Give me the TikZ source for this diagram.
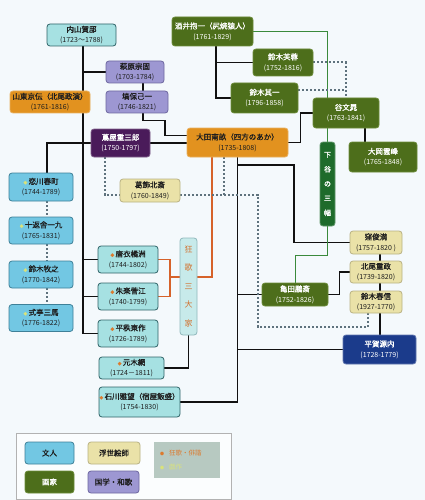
\documentclass[tikz,border=0pt]{standalone}
\usepackage{fontspec}
\setmainfont{Noto Sans CJK JP}[AutoFakeBold=1.3]
\pgfdeclarelayer{bg}
\pgfdeclarelayer{lines}
\pgfsetlayers{bg,lines,main}
\definecolor{cBg}{HTML}{F4F9FC}
\definecolor{cBun}{HTML}{72C7E3}
\definecolor{cBunD}{HTML}{3E8098}
\definecolor{cBunL}{HTML}{A6E1E2}
\definecolor{cBunLD}{HTML}{2F6468}
\definecolor{cUki}{HTML}{EAE2A8}
\definecolor{cUkiD}{HTML}{B9B283}
\definecolor{cGaka}{HTML}{4D6E1B}
\definecolor{cGakaD}{HTML}{6C8C3A}
\definecolor{cKoku}{HTML}{9D97D2}
\definecolor{cKokuD}{HTML}{6D67A0}
\definecolor{cOra}{HTML}{E2921F}
\definecolor{cOraD}{HTML}{E8B060}
\definecolor{cTsu}{HTML}{4A1B5A}
\definecolor{cHira}{HTML}{1B3B8B}
\definecolor{cShi}{HTML}{1E6B2B}
\definecolor{cK3}{HTML}{C7EAEA}
\definecolor{cK3D}{HTML}{8FB8BC}
\definecolor{cK3T}{HTML}{D2702C}
\definecolor{cLegG}{HTML}{B7C9C1}
\definecolor{cLine}{HTML}{111111}
\definecolor{cGreenL}{HTML}{3A8A3C}
\definecolor{cOraL}{HTML}{D6622A}
\definecolor{cDot}{HTML}{5E727D}
\definecolor{cMkO}{HTML}{DC7A2E}
\definecolor{cMkY}{HTML}{D9E27A}
\definecolor{cTxt}{HTML}{1E1E1E}
\newcommand\fn{\fontsize{7.5}{10.5}\selectfont\bfseries}
\newcommand\fd{\fontsize{7}{10.5}\selectfont\mdseries}
\newcommand\mko{{\color{cMkO}\fontsize{4}{4}\selectfont ●}\,}
\newcommand\mky{{\color{cMkY}\fontsize{4}{4}\selectfont ●}\,}
\tikzset{
  box/.style={rounded corners=3pt, line width=0.8pt, inner sep=0pt, align=center, font=\fn, text=cTxt},
  bun/.style={box, fill=cBun, draw=cBunD},
  bunl/.style={box, fill=cBunL, draw=cBunLD},
  uki/.style={box, fill=cUki, draw=cUkiD},
  gaka/.style={box, fill=cGaka, draw=cGakaD, text=white},
  koku/.style={box, fill=cKoku, draw=cKokuD},
  ora/.style={box, fill=cOra, draw=cOraD},
  tsu/.style={box, fill=cTsu, draw=cTsu!70!white, text=white},
  hira/.style={box, fill=cHira, draw=cHira!70!white, text=white},
  shi/.style={box, fill=cShi, draw=cShi!70!white, text=white, font=\fontsize{7}{14.5}\selectfont\bfseries},
  kyo/.style={box, fill=cK3, draw=cK3D, text=cK3T, font=\fontsize{8}{18.5}\selectfont},
  conn/.style={line width=1.4pt, draw=cLine},
  gconn/.style={line width=1pt, draw=cGreenL},
  oconn/.style={line width=1.2pt, draw=cOraL},
  dconn/.style={line width=2pt, draw=cDot, dash pattern=on 2pt off 2pt},
}
\begin{document}
\begin{tikzpicture}[x=1pt,y=-1pt]
\useasboundingbox (0,0) rectangle (425,500);
\begin{pgfonlayer}{bg}
\fill[cBg] (0,0) rectangle (425,500);
\end{pgfonlayer}

% ---------- nodes ----------
\node[bunl, minimum width=69pt, minimum height=22pt] (uchiyama) at (81.5,35) {内山賀邸\\{\fd (1723～1788)}};
\node[koku, minimum width=58pt, minimum height=22pt] (hagiwara) at (135,72) {萩原宗固\\{\fd (1703-1784)}};
\node[koku, minimum width=62pt, minimum height=22pt] (hanawa) at (137,102) {塙保己一\\{\fd (1746-1821)}};
\node[ora, minimum width=80pt, minimum height=22pt] (santo) at (50,102) {山東京伝（北尾政演）\\{\fd (1761-1816)}};
\node[tsu, minimum width=59pt, minimum height=28pt] (tsutaya) at (120.5,143) {蔦屋重三郎\\{\fd (1750-1797)}};
\node[ora, minimum width=101pt, minimum height=29pt] (ota) at (237.5,142.5) {大田南畝（四方のあか）\\{\fd (1735-1808)}};
\node[gaka, minimum width=81pt, minimum height=29pt] (sakai) at (212.5,31.5) {酒井抱一（尻焼猿人）\\{\fd (1761-1829)}};
\node[gaka, minimum width=60pt, minimum height=27pt] (fuyo) at (283,62.5) {鈴木芙蓉\\{\fd (1752-1816)}};
\node[gaka, minimum width=67pt, minimum height=30pt] (kiitsu) at (264.5,98) {鈴木其一\\{\fd (1796-1858)}};
\node[gaka, minimum width=66pt, minimum height=30pt] (buncho) at (346,113) {谷文晁\\{\fd (1763-1841)}};
\node[gaka, minimum width=68pt, minimum height=30pt] (unpo) at (383,157) {大岡雲峰\\{\fd (1765-1848)}};
\node[shi, minimum width=15pt, minimum height=84pt] (shitaya) at (327.5,184) {下\\谷\\の\\三\\幅};
\node[uki, minimum width=60pt, minimum height=23pt] (hokusai) at (150,190.5) {葛飾北斎\\{\fd (1760-1849)}};
\node[bun, minimum width=64pt, minimum height=28pt] (koikawa) at (41,187) {\mky 恋川春町\\{\fd (1744-1789)}};
\node[bun, minimum width=64pt, minimum height=27pt] (jippen) at (41,230.5) {\mky 十返舎一九\\{\fd (1765-1831)}};
\node[bun, minimum width=64pt, minimum height=27pt] (bokushi) at (41,274.5) {\mky 鈴木牧之\\{\fd (1770-1842)}};
\node[bun, minimum width=64pt, minimum height=27pt] (sanba) at (41,318) {\mky 式亭三馬\\{\fd (1776-1822)}};
\node[bunl, minimum width=60pt, minimum height=27pt] (karakoromo) at (128,259.5) {\mko 唐衣橘洲\\{\fd (1744-1802)}};
\node[bunl, minimum width=60pt, minimum height=27pt] (akera) at (128,296.5) {\mko 朱楽菅江\\{\fd (1740-1799)}};
\node[bunl, minimum width=60pt, minimum height=27pt] (hezutsu) at (128,333.5) {\mko 平秩東作\\{\fd (1726-1789)}};
\node[bunl, minimum width=65pt, minimum height=22pt] (motonoma) at (131.5,368) {\mko 元木網\\{\fd (1724－1811)}};
\node[bunl, minimum width=81pt, minimum height=30pt] (ishikawa) at (139.5,402) {\mko 石川雅望（宿屋飯盛）\\{\fd (1754-1830)}};
\node[kyo, minimum width=17pt, minimum height=97pt] (kyoka3) at (188.5,286.5) {狂\\歌\\三\\大\\家};
\node[uki, minimum width=52pt, minimum height=23pt] (kubo) at (376,242.5) {窪俊満\\{\fd (1757-1820 )}};
\node[uki, minimum width=52pt, minimum height=22pt] (kitao) at (376,272) {北尾重政\\{\fd (1739-1820)}};
\node[uki, minimum width=52pt, minimum height=22pt] (harunobu) at (376,302) {鈴木春信\\{\fd (1927-1770)}};
\node[gaka, minimum width=66pt, minimum height=23pt] (kameda) at (295,294.5) {亀田鵬斎\\{\fd (1752-1826)}};
\node[hira, minimum width=73pt, minimum height=29pt] (hiraga) at (379.5,349.5) {平賀源内\\{\fd (1728-1779)}};

% ---------- legend ----------
\begin{pgfonlayer}{bg}
\draw[fill=white!60!cBg, draw=black!30, line width=0.8pt] (16,433) rectangle (231,499);
\end{pgfonlayer}
\node[bun, minimum width=49pt, minimum height=22pt] (lg1) at (49.5,453) {文人};
\node[uki, minimum width=52pt, minimum height=22pt] (lg2) at (114,453) {浮世絵師};
\node[gaka, minimum width=49pt, minimum height=22pt] (lg3) at (49.5,482) {画家};
\node[koku, minimum width=51pt, minimum height=22pt] (lg4) at (113.5,482) {国学・和歌};
\node[fill=cLegG, minimum width=66pt, minimum height=36pt, inner sep=0pt] (lg5) at (187,460) {};
\node[anchor=west, inner sep=0pt, font=\fontsize{6.5}{8}\selectfont, text=cMkO] (lg5a) at (160,453) {{\fontsize{4}{4}\selectfont ●}\hspace{5pt}狂歌・俳諧};
\node[anchor=west, inner sep=0pt, font=\fontsize{6.5}{8}\selectfont, text=cMkY] (lg5b) at (160,467) {{\fontsize{4}{4}\selectfont ●}\hspace{5pt}戯作};

% ---------- connectors ----------
\begin{pgfonlayer}{lines}
\coordinate (tx) at (83,0);
\coordinate (lx) at (47,0);
\coordinate (hx) at (143,0);
\coordinate (sx) at (216,0);
\coordinate (ux) at (365,0);
\coordinate (vx) at (380,0);
\coordinate (gx) at (327.5,0);
\coordinate (ox) at (212,0);
\coordinate (oj) at (170,277);
\coordinate (k1) at (294,165);
\coordinate (dy) at (0,195);
\coordinate (d2) at (0,90);
\coordinate (tdx) at (105,0);
\coordinate (odx) at (224,0);
\coordinate (hk1) at (258,195);
\coordinate (hk2) at (258,327);
\coordinate (hk3) at (368,327);

% black
\draw[conn] (tx|-uchiyama.south) -- (tx|-hezutsu.west) -- (hezutsu.west);
\draw[conn] (tx|-hagiwara.west) -- (hagiwara.west);
\draw[conn] (tx|-tsutaya.west) -- (tsutaya.west);
\draw[conn] (tx|-tsutaya.west) -- (lx|-tsutaya.west) -- (lx|-koikawa.north);
\draw[conn] (tx|-karakoromo.west) -- (karakoromo.west);
\draw[conn] (tx|-akera.west) -- (akera.west);
\draw[conn] (hx|-hagiwara.south) -- (hx|-hanawa.north);
\draw[conn] (hx|-hanawa.south) -- ++(0,7) -- ++(22,0) -- ++(0,15) -- ++(22,0);
\draw[conn] (tsutaya.east) -- (ota.west|-tsutaya.east);
\draw[conn] (ota.east) -- ++(12,0) |- (buncho.west);
\draw[conn] (sx|-sakai.south) |- (kiitsu.west);
\draw[conn] (sx|-fuyo.west) -- (fuyo.west);
\draw[conn] (ux|-buncho.south) -- (ux|-unpo.north);
\draw[conn] (ota.south) -- (ota.south|-ishikawa.east) -- (ishikawa.east);
\draw[conn] (ota.south) |- (k1) |- (kubo.west);
\draw[conn] (ota.south|-kameda.west) -- (kameda.west);
\draw[conn] (ota.south|-hiraga.west) -- (hiraga.west);
\draw[conn] (kameda.east) -- ++(11,0) |- (kitao.west);
\draw[conn] (vx|-kubo.south) -- (vx|-hiraga.north);
\draw[conn] (kyoka3.south) |- (motonoma.east);

% orange
\draw[oconn] (ox|-ota.south) -- (ox|-oj) -- (kyoka3.east|-oj);
\draw[oconn] (karakoromo.east) -- (oj|-karakoromo.east) -- (oj|-akera.east) -- (akera.east);
\draw[oconn] (oj) -- (kyoka3.west|-oj);

% green
\draw[gconn] (sakai.east) -| (gx|-buncho.north);
\draw[gconn] (gx|-buncho.south) -- (shitaya.north);
\draw[gconn] (shitaya.south) -- ++(0,29) -| (kameda.north);

% dotted
\draw[dconn] (fuyo.east) -| (buncho.north);
\draw[dconn] (kiitsu.east|-d2) -- (buncho.north|-d2);
\draw[dconn] (tdx|-tsutaya.south) -- (tdx|-dy) -- (hokusai.west|-dy);
\draw[dconn] (hokusai.east|-dy) -- (hk1) -- (hk2) -- (hk3) -- (hk3|-harunobu.south);
\draw[dconn] (odx|-ota.south) -- (odx|-dy);
\draw[dconn] (lx|-koikawa.south) -- (lx|-jippen.north);
\draw[dconn] (lx|-jippen.south) -- (lx|-bokushi.north);
\draw[dconn] (lx|-bokushi.south) -- (lx|-sanba.north);
\end{pgfonlayer}
\end{tikzpicture}
\end{document}
